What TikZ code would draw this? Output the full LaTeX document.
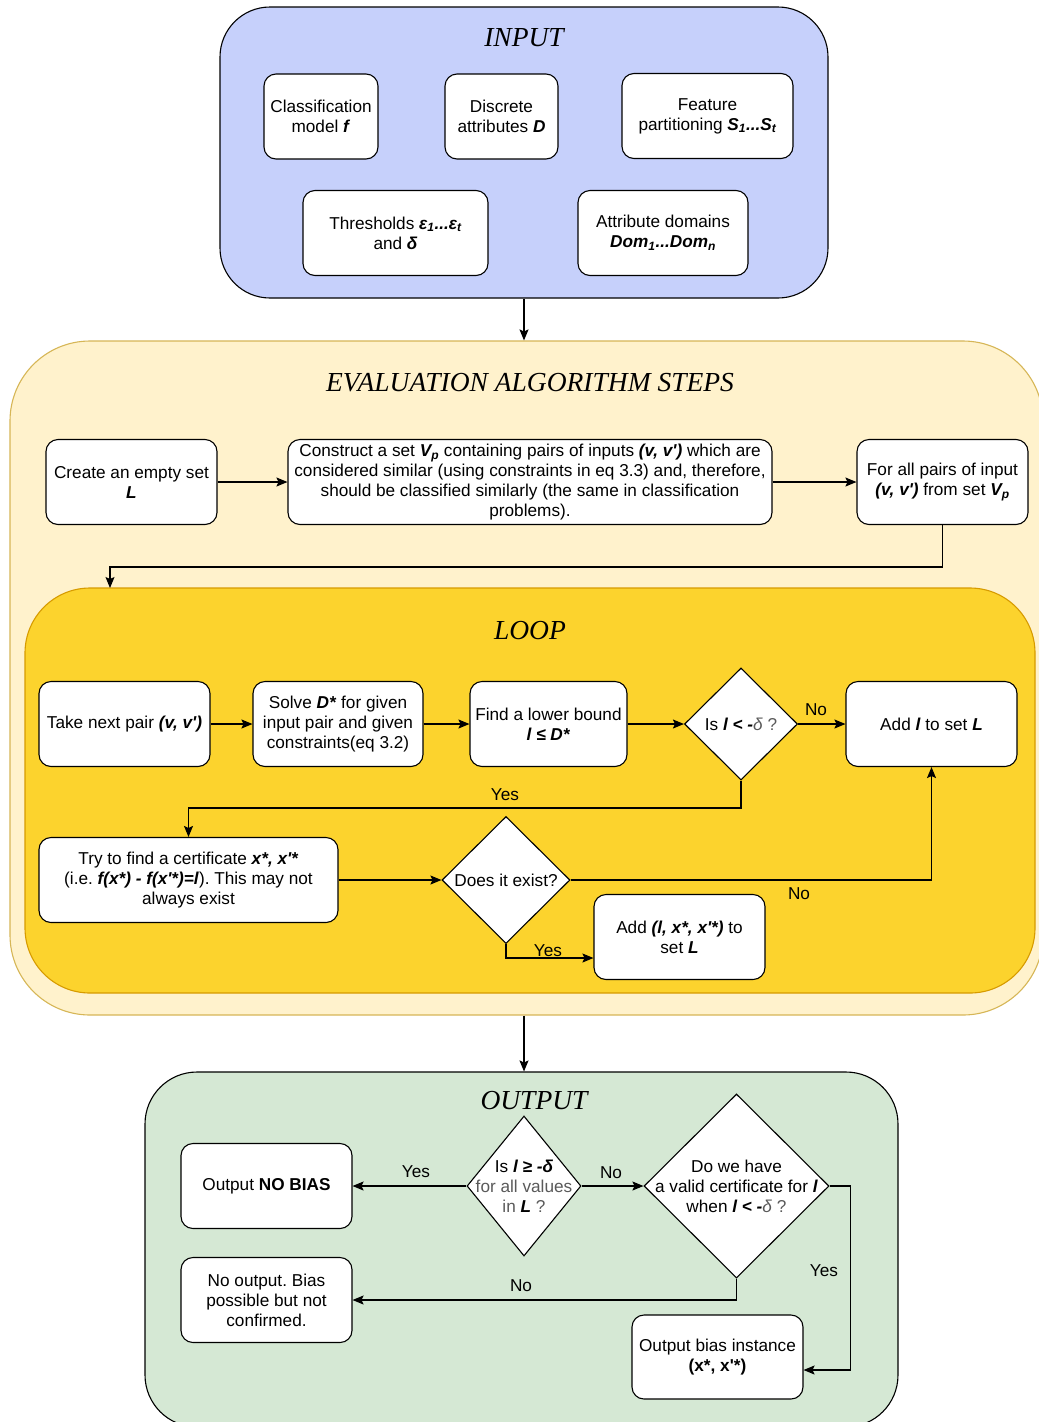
\documentclass[tikz,border=0pt]{standalone}
\usepackage{fontspec}
\newfontfamily\bodyfont{Liberation Sans}[Ligatures=TeXOff]
\newfontfamily\titlefont{Liberation Serif}
\usetikzlibrary{arrows.meta,shapes.geometric}
\definecolor{inputfill}{RGB}{198,208,251}
\definecolor{evalfill}{HTML}{FFF2CC}
\definecolor{evalline}{HTML}{D6B656}
\definecolor{loopfill}{RGB}{252,211,45}
\definecolor{loopline}{HTML}{D79B00}
\definecolor{outfill}{HTML}{D5E8D4}
\definecolor{txtgray}{RGB}{90,90,90}
\newcommand\bi[1]{\textbf{\textit{#1}}}
\newcommand\sub[1]{\textsubscript{#1}}
\newcommand\gr[1]{\textcolor{txtgray}{#1}}
\frenchspacing
\tikzset{
  box/.style={draw, rounded corners=12, fill=white, line width=1.1pt, align=center, inner sep=2pt, minimum height=85},
  dia/.style={draw, diamond, fill=white, line width=1.1pt, inner sep=0pt},
  dtext/.style={align=center, inner sep=0pt},
  container/.style={line width=1.1pt, inner sep=0pt},
  title/.style={font=\titlefont\itshape\fontsize{27.5}{31}\selectfont},
  arr/.style={-{Stealth[length=11pt,width=9pt,inset=2pt]}, line width=1.1pt},
  lbl/.style={inner sep=1pt},
}
\begin{document}
\begin{tikzpicture}[x=1pt,y=-1pt, font=\bodyfont\frenchspacing\fontsize{17.2}{20}\selectfont]
\useasboundingbox (0,0) rectangle (1039,1422);
\clip (0,0) rectangle (1039,1422);

% containers
\node[container, draw=black, fill=inputfill, rounded corners=50, minimum width=608, minimum height=291] (input) at (524,152.5) {};
\node[container, draw=evalline, fill=evalfill, rounded corners=80, minimum width=1033, minimum height=674] (eval) at (526.5,678) {};
\node[container, draw=loopline, fill=loopfill, rounded corners=65, minimum width=1010, minimum height=405] (loop) at (530,790.5) {};
\node[container, draw=black, fill=outfill, rounded corners=52, minimum width=753, minimum height=355] (output) at (521.5,1249.5) {};

% titles
\node[title] (tin) at (524,38) {INPUT};
\node[title] (tev) at (530,383) {EVALUATION ALGORITHM STEPS};
\node[title] (tlo) at (530,631) {LOOP};
\node[title] (tou) at (534,1101) {OUTPUT};

% input
\node[box, minimum width=114] (f) at (321,116.5) {Classification\\model \bi{f}};
\node[box, minimum width=113] (D) at (501.5,116.5) {Discrete\\attributes \bi{D}};
\node[box, minimum width=171] (S) at (707.5,116) {Feature\\partitioning \bi{S\sub{1}...S\sub{t}}};
\node[box, minimum width=185] (eps) at (395.5,233) {Thresholds \bi{ε\sub{1}...ε\sub{t}}\\and \bi{δ}};
\node[box, minimum width=170] (dom) at (663,233) {Attribute domains\\\bi{Dom\sub{1}...Dom\sub{n}}};

% eval
\node[box, minimum width=171] (L) at (131.5,482) {Create an empty set\\\bi{L}};
\node[box, minimum width=484] (Vp) at (530,482) {Construct a set \bi{V\sub{p}} containing pairs of inputs \bi{(v, v')} which are\\considered similar (using constraints in eq 3.3) and, therefore,\\should be classified similarly (the same in classification\\problems).};
\node[box, minimum width=171] (fa) at (942.5,482) {For all pairs of input\\\bi{(v, v')} from set \bi{V\sub{p}}};

% loop
\node[box, minimum width=171] (take) at (124.5,724) {Take next pair \bi{(v, v')}};
\node[box, minimum width=170] (solve) at (338,724) {Solve \bi{D*} for given\\input pair and given\\constraints(eq 3.2)};
\node[box, minimum width=157] (find) at (548.5,724) {Find a lower bound\\\bi{l ≤ D*}};
\node[dia, minimum width=113, minimum height=112] (d1) at (741,724) {};
\node[dtext] (d1t) at (d1) {Is \bi{l < -}\gr{\textit{δ} ?}};
\node[box, minimum width=171] (addl) at (931.5,724) {Add \bi{l} to set \bi{L}};
\node[box, minimum width=299] (cert) at (188.5,880) {Try to find a certificate \bi{x*, x'*}\\(i.e. \bi{f(x*) - f(x'*)=l}). This may not\\always exist};
\node[dia, minimum width=128, minimum height=127] (d2) at (506,880) {};
\node[dtext] (d2t) at (d2) {Does it exist?};
\node[box, minimum width=171] (addlx) at (679.5,937) {Add \bi{(l, x*, x'*)} to\\set \bi{L}};

% output
\node[box, minimum width=171] (nobias) at (266.5,1186) {Output \textbf{NO BIAS}};
\node[box, minimum width=171] (noout) at (266.5,1300) {No output. Bias\\possible but not\\confirmed.};
\node[dia, minimum width=114, minimum height=140] (d3) at (524,1186) {};
\node[dtext] (d3t) at (d3) {Is \bi{l ≥ -δ}\\\gr{for all values}\\\gr{in} \bi{L} \gr{?}};
\node[dia, minimum width=185, minimum height=184] (d4) at (736.5,1186) {};
\node[dtext] (d4t) at (d4) {Do we have\\a valid certificate for \bi{l}\\when \bi{l < -}\gr{\textit{δ} ?}};
\node[box, minimum width=171, minimum height=84] (bias) at (717.5,1357) {Output bias instance\\\textbf{(x*, x'*)}};

% connectors
\draw[arr] (input.south) -- (input.south |- eval.north);
\draw[arr] (L) -- (Vp);
\draw[arr] (Vp) -- (fa);
\coordinate (loopin) at (110,588);
\draw[arr] (fa.south) -- (fa.south |- 0,567) -| (loopin);
\draw[arr] (take) -- (solve);
\draw[arr] (solve) -- (find);
\draw[arr] (find) -- (d1.west);
\draw[arr] (d1.east) -- (addl);
\node[lbl] at (816,710) {No};
\draw[arr] (d1.south) -- (d1.south |- 0,808) -| (cert.north);
\node[lbl] at (505,795) {Yes};
\draw[arr] (cert) -- (d2.west);
\draw[arr] (d2.east) -| (addl.south);
\node[lbl] at (799,894) {No};
\draw[arr] (d2.south) -- (d2.south |- 0,958) -- (addlx.west |- 0,958);
\node[lbl] at (548,951) {Yes};
\draw[arr] (input.south |- eval.south) -- (input.south |- output.north);
\draw[arr] (d3.west) -- (nobias.east);
\node[lbl] at (416,1172) {Yes};
\draw[arr] (d3.east) -- (d4.west);
\node[lbl] at (611,1173) {No};
\draw[arr] (d4.south) |- (noout.east);
\node[lbl] at (521,1286) {No};
\draw[arr] (d4.east) -- ++(21,0) |- (bias.east |- 0,1370);
\node[lbl] at (824,1271) {Yes};
\end{tikzpicture}
\end{document}
